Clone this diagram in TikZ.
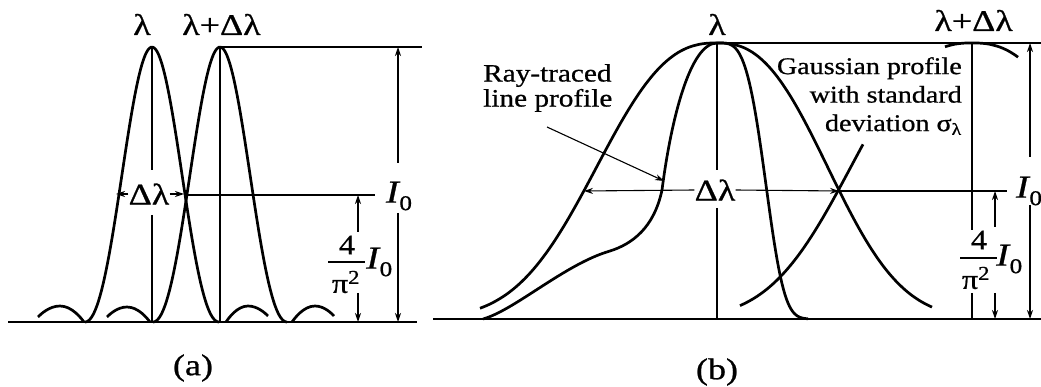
\documentclass[tikz,border=0pt]{standalone}
\usepackage{fontspec}
\setmainfont{Liberation Serif}[UprightFeatures={FakeBold=0.7},ItalicFeatures={FakeBold=0.7}]
\usetikzlibrary{arrows.meta}
\newcommand\Izero{{\fontsize{32}{32}\selectfont\itshape I}\kern0.5pt\raisebox{-0.25em}{\fontsize{21}{21}\selectfont 0}}
\begin{document}
\begin{tikzpicture}[x=1pt,y=-1pt,
  curv/.style={line width=2.7pt,line join=round},
  thinl/.style={line width=1.1pt},
  basel/.style={line width=2.2pt},
  dimarr/.style={thinl,-{Stealth[length=9pt,width=6pt]}},
  lbl/.style={inner sep=0pt,font=\fontsize{30}{32}\selectfont,xscale=1.2},
  fracl/.style={inner sep=0pt,font=\fontsize{28}{28}\selectfont,xscale=1.15},
  notel/.style={inner sep=0pt,xscale=1.17}]
\path[use as bounding box] (0,0) rectangle (1041,387);

% ================= panel (a) =================
\draw[basel] (8,322) -- (417,322);
% main lobes
\draw[curv] plot[domain=-1:1,samples=90] ({152+67*\x},{322-275*(0.5*(cos(90*\x))^2+0.5*(sin(180*\x)/(3.14159*\x))^2)});
\draw[curv] plot[domain=-1:1,samples=90] ({220+67*\x},{322-275*(0.5*(cos(90*\x))^2+0.5*(sin(180*\x)/(3.14159*\x))^2)});
% side lobes
\draw[curv] (38,317) parabola bend (60,306) (84,322);
\draw[curv] (107,317) parabola bend (127,307) (150,322);
\draw[curv] (226,322) parabola bend (248,306) (268,316);
\draw[curv] (292,322) parabola bend (315,306) (334,316);
% labels
\node[lbl,anchor=base west] (la1) at (133,35) {λ};
\node[lbl,anchor=base west] (la2) at (182,35) {λ+Δλ};
\node[lbl] (dla) at (149,194) {Δλ};
\node[lbl] (Ia) at (399,196) {\Izero};
\node[fracl] (na) at (347,245) {4};
\node[fracl] (da) at (346,282) {π\textsuperscript{2}};
\node[lbl,anchor=west] (Ifa) at (366,262) {\Izero};
% lines
\coordinate (pa1) at (152,47);
\coordinate (pa2) at (220,47);
\draw[thinl] (pa1) -- (152,170);
\draw[thinl] (152,215) -- (152,322);
\draw[thinl] (pa2) -- (220,322);
\draw[thinl] (pa2) -- (422,47);
\draw[thinl] (184,195) -- (375,195);
\draw[thinl] (328,262) -- (365,262);
\draw[dimarr] (dla.west) -- (116,194);
\draw[dimarr] (dla.east) -- (184,194);
\draw[dimarr] (398,163) -- (398,47);
\draw[dimarr] (398,213) -- (398,322);
\draw[dimarr] (358,232) -- (358,195);
\draw[dimarr] (358,293) -- (358,322);
\node[lbl] (capa) at (193,368) {(a)};

% ================= panel (b) =================
\draw[basel] (433,319) -- (1041,319);
% broad profile
\draw[curv] plot[domain=480:717,samples=80] (\x,{319-276*exp(-((abs(\x-717)+0.01)/148)^2.5)})
  -- plot[domain=717:932,samples=80] (\x,{319-276*exp(-((abs(\x-717)+0.01)/136)^2.5)});
% narrow ray-traced profile
\draw[curv] (483,319) .. controls (515,310) and (565,264) .. (610,251)
  .. controls (632,244) and (654,228) .. (662,190)
  .. controls (671,120) and (690,43) .. (717,43)
  -- plot[domain=717.1:808,samples=60] (\x,{319-276*exp(-((\x-717)/53.5)^3.7)});
% shifted Gaussian
\draw[curv] plot[domain=740:863,samples=50] (\x,{319-276*exp(-((abs(\x-972)+0.01)/149)^2.5)});
\draw[curv] plot[domain=945:1018,samples=30] (\x,{319-276*exp(-((abs(\x-972)+0.01)/149)^2.5)});
% labels
\node[lbl,anchor=base] (lb1) at (717,35) {λ};
\node[lbl,anchor=base east] (lb2) at (1013,31) {λ+Δλ};
\node[lbl] (dlb) at (715,190) {Δλ};
\node[lbl] (Ib) at (1029,191) {\Izero};
\node[fracl] (nb) at (979,240) {4};
\node[fracl] (db) at (976,278) {π\textsuperscript{2}};
\node[lbl,anchor=west] (Ifb) at (996,259) {\Izero};
\node[notel,anchor=north west,align=left,font=\fontsize{25}{25}\selectfont] (rt) at (483,64) {Ray-traced\\line profile};
\node[notel,anchor=north east,align=right,font=\fontsize{24}{28.5}\selectfont] (gp) at (962,57) {Gaussian profile\\with standard\\deviation σ\textsubscript{λ}};
% lines
\coordinate (pb1) at (717,43);
\coordinate (pb2) at (972,43);
\draw[thinl] (pb1) -- (717,170);
\draw[thinl] (717,208) -- (717,319);
\draw[thinl] (pb1) -- (1041,43);
\draw[thinl] (pb2) -- (972,230);
\draw[thinl] (972,293) -- (972,319);
\draw[thinl] (838,191) -- (1007,191);
\draw[thinl] (960,258) -- (997,258);
\draw[dimarr] (dlb.west) -- (584,191);
\draw[dimarr] (dlb.east) -- (839,191);
\draw[thinl,-{Stealth[length=9pt,width=6pt]}] (547,127) -- (664,181);
\draw[dimarr] (995,227) -- (995,191);
\draw[dimarr] (995,293) -- (995,319);
\draw[dimarr] (1030,157) -- (1030,43);
\draw[dimarr] (1030,205) -- (1030,319);
\node[lbl] (capb) at (717,372) {(b)};
\end{tikzpicture}
\end{document}
